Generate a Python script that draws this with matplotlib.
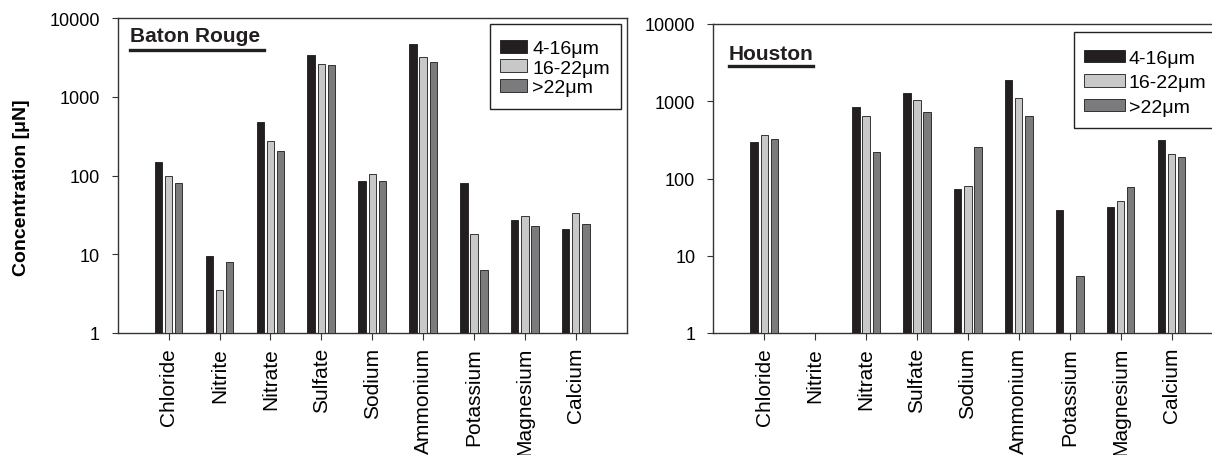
import numpy as np, matplotlib
matplotlib.use("Agg")
import matplotlib.pyplot as plt
from matplotlib.lines import Line2D
from matplotlib.patches import Patch, Rectangle

plt.rcParams["font.family"] = ["Liberation Sans", "DejaVu Sans"]

ions = ["Chloride", "Nitrite", "Nitrate", "Sulfate", "Sodium", "Ammonium", "Potassium", "Magnesium", "Calcium"]
sizes = ["4-16\u03bcm", "16-22\u03bcm", ">22\u03bcm"]

# Baton Rouge
br_small = [148, 9.4, 482, 3420, 85, 4720, 80, 27, 21.1]
br_mid = [99.5, 3.5, 277, 2580, 104, 3170, 17.9, 30.3, 33.1]
br_large = [80, 8.05, 203, 2500, 84, 2760, 6.4, 22.6, 24.4]

# Houston (nan = not detected)
hou_small = [296, np.nan, 839, 1288, 72.5, 1857, 38.8, 42.5, 312]
hou_mid = [369, np.nan, 637, 1045, 81, 1109, np.nan, 50.8, 210]
hou_large = [327, np.nan, 222, 724, 253, 642, 5.45, 78.6, 190]

colors = ["#231f20", "#c8c8c8", "#7b7b7d"]
W, H = 1212, 456

fig = plt.figure(figsize=(W / 100, H / 100), dpi=100)

def px(x0, y0, x1, y1):
    return [x0 / W, 1 - y1 / H, (x1 - x0) / W, (y1 - y0) / H]

ax1 = fig.add_axes(px(117.7, 19, 626.7, 334))
ax2 = fig.add_axes(px(713.4, 25, 1222.4, 334))

x = np.arange(len(ions))
for ax, series in [(ax1, (br_small, br_mid, br_large)), (ax2, (hou_small, hou_mid, hou_large))]:
    for k, (vals, c) in enumerate(zip(series, colors)):
        ax.bar(x + (k - 1) * 0.2, vals, width=0.145, color=c, edgecolor="#1a1a1a", lw=0.6, zorder=3)
    ax.set_yscale("log")
    ax.set_ylim(1, 10000)
    ax.set_xlim(-1, 9)
    ax.yaxis.set_minor_locator(matplotlib.ticker.NullLocator())
    ax.set_yticks([1, 10, 100, 1000, 10000], ["1", "10", "100", "1000", "10000"])
    ax.set_xticks(x, ions, rotation=90)
    ax.tick_params(axis="y", labelsize=13, length=4, width=0.8, pad=9, color="#333")
    ax.tick_params(axis="x", labelsize=15, length=5, width=0.8, pad=5, color="#333")
    for s in ax.spines.values():
        s.set_color("#333"); s.set_linewidth(1.0)

fig.text(21 / W, 1 - 188 / H, "Concentration [\u03bcN]", rotation=90, ha="center", va="center",
         fontsize=14, fontweight="bold")

# panel titles with underline
for name, x0, yc, x1, yl in [("Baton Rouge", 130, 37, 264, 51), ("Houston", 729, 54, 813, 66.5)]:
    fig.text(x0 / W, 1 - yc / H, name, ha="left", va="center", fontsize=15, fontweight="bold", color="#231f20")
    fig.add_artist(Line2D([x0 / W, x1 / W], [1 - yl / H, 1 - yl / H], color="#231f20", lw=2.4))

# legends (frameless) + separate boxes
handles = [Patch(facecolor=c, edgecolor="#1a1a1a", lw=0.6) for c in colors]
ax1.legend(handles, sizes, loc="upper left", bbox_to_anchor=(500 / W, 1 - 41 / H), bbox_transform=fig.transFigure,
           fontsize=14, frameon=False, borderpad=0, handlelength=1.4, handleheight=0.62,
           handletextpad=0.26, labelspacing=0.12, borderaxespad=0)
ax2.legend(handles, sizes, loc="upper left", bbox_to_anchor=(1084 / W, 1 - 50.5 / H), bbox_transform=fig.transFigure,
           fontsize=14, frameon=False, borderpad=0, handlelength=2.1, handleheight=0.62,
           handletextpad=0.2, labelspacing=0.38, borderaxespad=0)
for (x0, y0, x1, y1) in [(490, 25, 621, 110), (1074, 32.7, 1240, 129)]:
    b = px(x0, y0, x1, y1)
    fig.add_artist(Rectangle((b[0], b[1]), b[2], b[3], transform=fig.transFigure,
                             fill=False, edgecolor="#222", lw=1.0))

fig.savefig("out.png", dpi=100, facecolor="white")
print("ok")
